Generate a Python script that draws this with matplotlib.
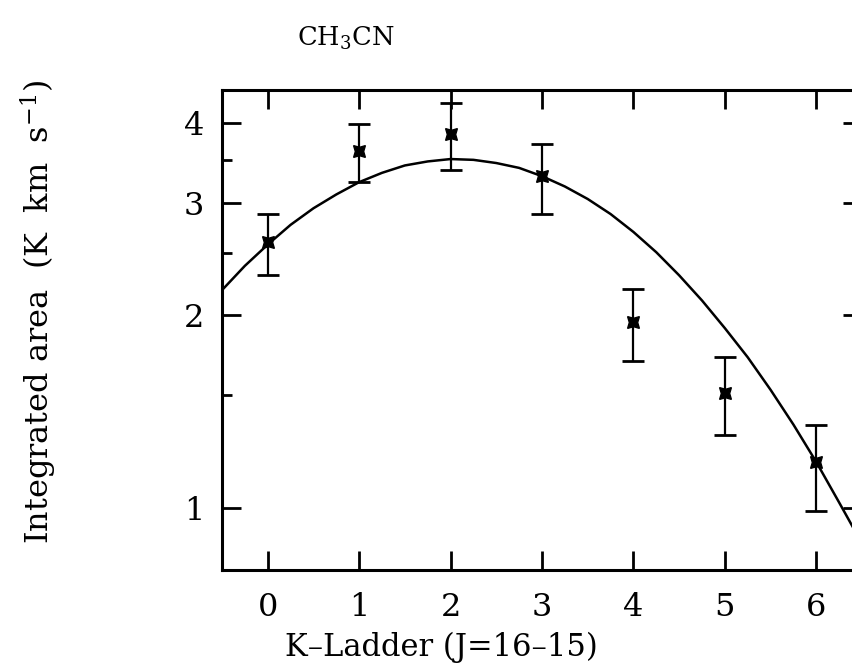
"""
CH3CN K-ladder integrated areas (J=16-15) with a rotation-diagram style fit.
Log y axis, error bars on each K component.
"""

import matplotlib
matplotlib.use("Agg")
import matplotlib.pyplot as plt
from matplotlib.ticker import FixedLocator, FixedFormatter, NullFormatter, NullLocator

# ── Data ───────────────────────────────────────────────────────────────────────
K_LEVELS   = [0, 1, 2, 3, 4, 5, 6]
AREA       = [2.60, 3.61, 3.84, 3.30, 1.95, 1.51, 1.18]
AREA_UPPER = [2.88, 3.98, 4.30, 3.71, 2.20, 1.72, 1.35]
AREA_LOWER = [2.31, 3.23, 3.37, 2.88, 1.70, 1.30, 0.99]

# fitted curve, sampled along the drawn line
FIT_K    = [-0.5, -0.25, 0.0, 0.25, 0.5, 0.75, 1.0, 1.25, 1.5, 1.75, 2.0,
            2.25, 2.5, 2.75, 3.0, 3.25, 3.5, 3.75, 4.0, 4.25, 4.5, 4.75,
            5.0, 5.25, 5.5, 5.75, 6.0, 6.25, 6.5]
FIT_AREA = [2.19, 2.39, 2.58, 2.77, 2.94, 3.09, 3.23, 3.34, 3.43, 3.48, 3.51,
            3.50, 3.46, 3.40, 3.30, 3.18, 3.04, 2.88, 2.70, 2.51, 2.31, 2.11,
            1.91, 1.72, 1.53, 1.35, 1.18, 1.02, 0.88]

Y_MAJOR = [1, 2, 3, 4]
Y_MINOR = [1.5, 2.5, 3.5]

plt.rcParams["font.family"] = ["DejaVu Serif"]
plt.rcParams["mathtext.fontset"] = "dejavuserif"

W, H = 853, 665
fig = plt.figure(figsize=(W / 100, H / 100), dpi=100)

# axes run slightly past the right edge (as in the reference crop)
ax = fig.add_axes([222 / W, 95 / H, 640 / W, 480 / H])

lower_err = [a - lo for a, lo in zip(AREA, AREA_LOWER)]
upper_err = [hi - a for a, hi in zip(AREA, AREA_UPPER)]

ax.errorbar(K_LEVELS, AREA, yerr=[lower_err, upper_err], fmt="none",
            ecolor="black", elinewidth=1.6, capsize=8, capthick=2.0, zorder=3)
ax.plot(K_LEVELS, AREA, linestyle="none", marker=(4, 1, 45), markersize=12,
        color="black", zorder=4)
ax.plot(FIT_K, FIT_AREA, color="black", linewidth=1.8, zorder=2)

ax.set_yscale("log")
ax.set_xlim(-0.5, 6.5)
ax.set_ylim(0.8, 4.5)

ax.set_xticks(K_LEVELS)
ax.yaxis.set_major_locator(FixedLocator(Y_MAJOR))
ax.yaxis.set_minor_locator(FixedLocator(Y_MINOR))
ax.yaxis.set_major_formatter(FixedFormatter([str(v) for v in Y_MAJOR]))
ax.yaxis.set_minor_formatter(NullFormatter())
ax.xaxis.set_minor_locator(NullLocator())

ax.tick_params(axis="both", which="major", direction="in", length=14,
               width=2.0, top=True, right=True, labelsize=23)
ax.tick_params(axis="y", which="minor", direction="in", length=7.5,
               width=2.0, right=True)
ax.tick_params(axis="x", which="major", pad=16)
ax.tick_params(axis="y", which="major", pad=13)

for sp in ax.spines.values():
    sp.set_linewidth(2.2)

fig.text(346 / W, 1 - 38 / H, r"CH$_3$CN", fontsize=18.5, ha="center", va="center")
fig.text(441 / W, 1 - 647 / H, "K\u2013Ladder (J=16\u201315)", fontsize=22,
         ha="center", va="center")
fig.text(39 / W, 1 - 312 / H, r"Integrated area  (K  km  s$^{-1}$)", fontsize=23,
         ha="center", va="center", rotation=90)

fig.savefig("out.png", dpi=100)
